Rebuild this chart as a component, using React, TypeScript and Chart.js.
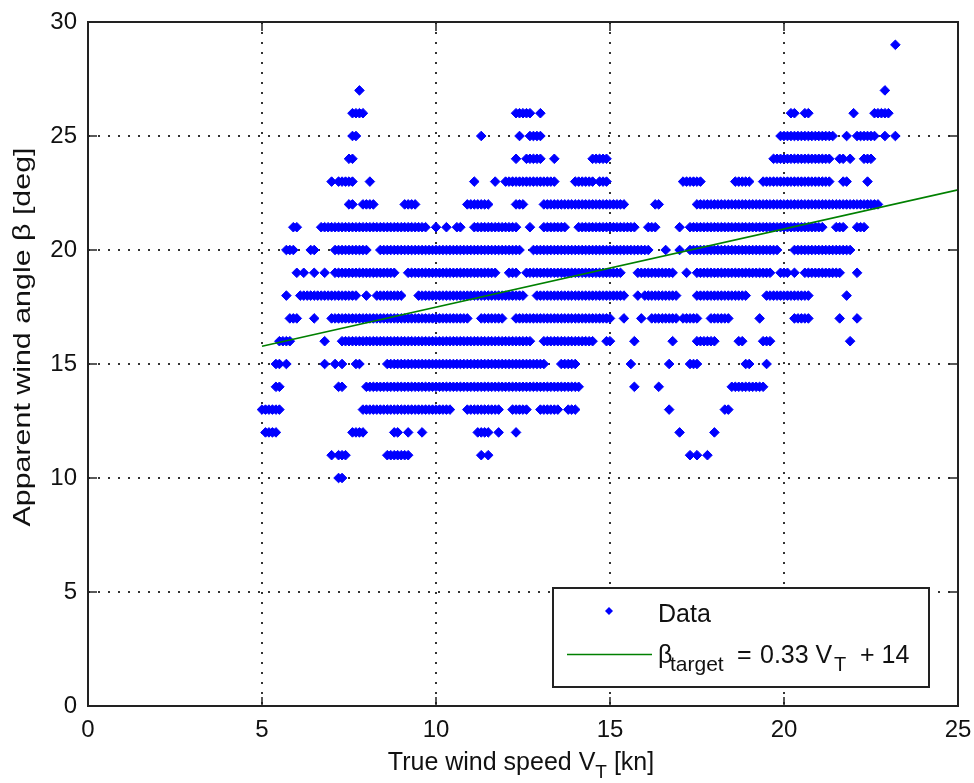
import React, { useEffect, useRef } from 'react';
import { Chart, registerables } from 'chart.js';

Chart.register(...registerables);

// ---------- data ----------
const angleLevels = [29, 28, 27, 26, 25, 24, 23, 22, 21, 20, 19, 18, 17, 16, 15, 14, 13, 12, 11, 10];

// For each apparent wind angle level: [whole knots, presence marks for .0 .1 ... .9 kn]
const speedMarks: [number, string][][] = [
  /*29*/ [[23, '..#.......']],
  /*28*/ [],
  /*27*/ [[7, '........#.'], [22, '.........#']],
  /*26*/ [[7, '......####'], [12, '...#####..'], [13, '#.........'], [20, '..##..##..'], [22, '#.....####'], [23, '#.........']],
  /*25*/ [[7, '......##..'], [11, '...#......'], [12, '....#..###'], [13, '#.........'], [19, '.........#'], [20, '##########'], [21, '#####...#.'], [22, '.######..#'], [23, '..#.......']],
  /*24*/ [[7, '.....##...'], [12, '...#..####'], [13, '#...#.....'], [14, '.....#####'], [19, '.......###'], [20, '##########'], [21, '####..##.#'], [22, '...###....']],
  /*23*/ [[7, '#.#####...'], [8, '.#........'], [11, '.#.....#..'], [12, '##########'], [13, '#####.....'], [14, '######.###'], [17, '.######...'], [18, '......####'], [19, '#...######'], [20, '##########'], [21, '####...##.'], [22, '....#.....']],
  /*22*/ [[7, '.....##..#'], [8, '###.......'], [9, '.####.....'], [10, '.........#'], [11, '######....'], [12, '...###....'], [13, '.#########'], [14, '##########'], [15, '#####.....'], [16, '...##.....'], [17, '.....#####'], [18, '##########'], [19, '##########'], [20, '##########'], [21, '##########'], [22, '########..']],
  /*21*/ [[5, '.........#'], [6, '#......###'], [7, '##########'], [8, '##########'], [9, '########..'], [10, '#..#..##..'], [11, '.#########'], [12, '####...#..'], [13, '.#######..'], [14, '.#########'], [15, '########..'], [16, '.###......'], [17, '#..#######'], [18, '##########'], [19, '##########'], [20, '##########'], [21, '##...###..'], [22, '.###......']],
  /*20*/ [[5, '.......###'], [6, '....##....'], [7, '.#########'], [8, '#...######'], [9, '##########'], [10, '##########'], [11, '##########'], [12, '#####...##'], [13, '##########'], [14, '##########'], [15, '##########'], [16, '##....#...'], [17, '#..#######'], [18, '##########'], [19, '#########.'], [20, '...#######'], [21, '##########']],
  /*19*/ [[6, '#.#..#..#.'], [7, '.#########'], [8, '#########.'], [9, '..########'], [10, '##########'], [11, '########..'], [12, '.###..####'], [13, '##########'], [14, '##########'], [15, '####....##'], [16, '#########.'], [17, '..#..#####'], [18, '##########'], [19, '#######..#'], [20, '##.#..####'], [21, '#######...'], [22, '.#........']],
  /*18*/ [[5, '.......#..'], [6, '.#########'], [7, '########..'], [8, '#..#######'], [9, '#....#####'], [10, '##########'], [11, '##########'], [12, '######...#'], [13, '##########'], [14, '##########'], [15, '#####...#.'], [16, '##########'], [17, '.....#####'], [18, '##########'], [19, '.....#####'], [20, '########..'], [21, '........#.']],
  /*17*/ [[5, '........##'], [6, '#....#....'], [7, '##########'], [8, '##########'], [9, '##########'], [10, '##########'], [11, '...#######'], [12, '...#######'], [13, '##########'], [14, '##########'], [15, '#...#....#'], [16, '..########'], [17, '.#####...#'], [18, '#####.....'], [19, '...#......'], [20, '...#####..'], [21, '......#...'], [22, '.#........']],
  /*16*/ [[5, '.....####.'], [6, '........#.'], [7, '...#######'], [8, '##########'], [9, '##########'], [10, '##########'], [11, '##########'], [12, '########..'], [13, '.#########'], [14, '######...#'], [15, '#......#..'], [16, '........#.'], [17, '.....#####'], [18, '#......##.'], [19, '....###...'], [21, '.........#']],
  /*15*/ [[5, '....##.#..'], [6, '........#.'], [7, '.#.#...##.'], [8, '......####'], [9, '##########'], [10, '##########'], [11, '##########'], [12, '##########'], [13, '##....####'], [14, '#.........'], [15, '......#...'], [16, '.......#..'], [17, '...###....'], [18, '.........#'], [19, '#....#....']],
  /*14*/ [[5, '....##....'], [7, '..##......'], [8, '##########'], [9, '##########'], [10, '##########'], [11, '##########'], [12, '##########'], [13, '##########'], [14, '##........'], [15, '.......#..'], [16, '....#.....'], [18, '.....#####'], [19, '#####.....']],
  /*13*/ [[5, '######....'], [7, '.........#'], [8, '##########'], [9, '##########'], [10, '#####....#'], [11, '#########.'], [12, '..#####...'], [13, '######..##'], [14, '#.........'], [16, '.......#..'], [18, '...##.....']],
  /*12*/ [[5, '.####.....'], [7, '......####'], [8, '........##'], [9, '..#...#...'], [11, '..####..#.'], [12, '...#......'], [17, '#.........'], [18, '#.........']],
  /*11*/ [[7, '#.###.....'], [8, '......####'], [9, '###.......'], [11, '...#.#....'], [17, '...#.#..#.']],
  /*10*/ [[7, '..##......']],
];

const fitSpeeds = [5, 25];
const fitAngles = [15.78, 22.64];

const xTicks = [0, 5, 10, 15, 20, 25];
const yTicks = [0, 5, 10, 15, 20, 25, 30];

const legendLabels = ['Data', 'β_target = 0.33 V_T + 14'];

// ---------- styles ----------
const FAMILY = "'Liberation Sans', Arial, Helvetica, sans-serif";
const BLUE = '#0000ff';
const GREEN = '#008000';
const TEXT = '#111111';
const FRAME = '#222222';
const font = (s: number) => `${s}px ${FAMILY}`;

type Piece = { t: string; size: number; dy: number; x?: number };

function drawPieces(ctx: CanvasRenderingContext2D, startX: number, baseY: number, pieces: Piece[]) {
  let cx = startX;
  for (const p of pieces) {
    ctx.font = font(p.size);
    const px = p.x !== undefined ? p.x : cx;
    ctx.fillText(p.t, px, baseY + p.dy);
    cx = px + ctx.measureText(p.t).width;
  }
  return cx;
}

function measurePieces(ctx: CanvasRenderingContext2D, pieces: Piece[]) {
  let w = 0;
  for (const p of pieces) {
    ctx.font = font(p.size);
    w += ctx.measureText(p.t).width;
  }
  return w;
}

const framePlugin = {
  id: 'matlabFrame',
  afterDraw(chart: any) {
    const { ctx, chartArea } = chart;
    const { left, right, top, bottom } = chartArea;
    const xs = chart.scales.x;
    const ys = chart.scales.y;
    ctx.save();

    // inward tick marks on all four sides
    ctx.strokeStyle = FRAME;
    ctx.lineWidth = 1.5;
    ctx.setLineDash([]);
    const seg = (x1: number, y1: number, x2: number, y2: number) => {
      ctx.beginPath();
      ctx.moveTo(x1, y1);
      ctx.lineTo(x2, y2);
      ctx.stroke();
    };
    const tl = 9;
    xs.ticks.forEach((t: any) => {
      const px = xs.getPixelForValue(t.value);
      seg(px, bottom, px, bottom - tl);
      seg(px, top, px, top + tl);
    });
    ys.ticks.forEach((t: any) => {
      const py = ys.getPixelForValue(t.value);
      seg(left, py, left + tl, py);
      seg(right, py, right - tl, py);
    });

    // box
    ctx.lineWidth = 2;
    ctx.strokeRect(left, top, right - left, bottom - top);

    // x axis title
    ctx.fillStyle = TEXT;
    ctx.textAlign = 'left';
    ctx.textBaseline = 'alphabetic';
    const xPieces: Piece[] = [
      { t: 'True wind speed V', size: 25, dy: 0 },
      { t: 'T', size: 19, dy: 8 },
      { t: ' [kn]', size: 25, dy: 0 },
    ];
    const xw = measurePieces(ctx, xPieces);
    drawPieces(ctx, (left + right) / 2 - xw / 2 - 2, 770, xPieces);

    // y axis title (rotated)
    const yText = 'Apparent wind angle β [deg]';
    ctx.save();
    ctx.translate(30, 337);
    ctx.rotate(-Math.PI / 2);
    ctx.font = font(24);
    const yw = ctx.measureText(yText).width;
    const sx = 379 / yw;
    ctx.scale(sx, 1);
    ctx.textAlign = 'center';
    ctx.fillText(yText, 0, 0);
    ctx.restore();

    // legend
    const lx = 553, ly = 588, lw = 376, lh = 99;
    ctx.fillStyle = '#ffffff';
    ctx.fillRect(lx, ly, lw, lh);
    ctx.strokeStyle = FRAME;
    ctx.lineWidth = 2;
    ctx.strokeRect(lx, ly, lw, lh);

    const dataDs = chart.data.datasets[1];
    const fitDs = chart.data.datasets[0];
    // marker sample
    ctx.fillStyle = dataDs.backgroundColor;
    ctx.beginPath();
    const mx = 609, my = 611, mr = 4;
    ctx.moveTo(mx - mr, my);
    ctx.lineTo(mx, my - mr);
    ctx.lineTo(mx + mr, my);
    ctx.lineTo(mx, my + mr);
    ctx.closePath();
    ctx.fill();
    // line sample
    ctx.strokeStyle = fitDs.borderColor;
    ctx.lineWidth = fitDs.borderWidth;
    seg(567, 654.5, 652, 654.5);

    ctx.fillStyle = TEXT;
    ctx.textAlign = 'left';
    ctx.font = font(25);
    ctx.fillText(legendLabels[0], 658, 622);
    const [head, rest] = legendLabels[1].split(' = ');
    const [beta, sub] = head.split('_');
    const restParts = rest.split('_'); // ['0.33 V', 'T + 14']
    const tail = restParts[1].slice(1); // ' + 14'
    drawPieces(ctx, 658, 663, [
      { t: beta, size: 25, dy: 0, x: 658 },
      { t: sub, size: 21, dy: 8, x: 670 },
      { t: '=', size: 25, dy: 0, x: 737 },
      { t: restParts[0], size: 25, dy: 0, x: 760 },
      { t: restParts[1].charAt(0), size: 20, dy: 8, x: 834 },
      { t: tail, size: 25, dy: 0, x: 853 },
    ]);

    ctx.restore();
  },
};

export default function App() {
  const ref = useRef<HTMLCanvasElement>(null);

  useEffect(() => {
    const canvas = ref.current;
    if (!canvas) return;

    const points: { x: number; y: number }[] = [];
    angleLevels.forEach((angle, i) => {
      for (const [whole, marks] of speedMarks[i]) {
        for (let j = 0; j < marks.length; j++) {
          if (marks[j] === '#') points.push({ x: whole + j / 10, y: angle });
        }
      }
    });

    const tickFont = { family: FAMILY, size: 24 };

    const chart = new Chart(canvas, {
      type: 'scatter',
      data: {
        datasets: [
          {
            type: 'line',
            label: legendLabels[1],
            data: fitSpeeds.map((x, i) => ({ x, y: fitAngles[i] })),
            borderColor: GREEN,
            backgroundColor: GREEN,
            borderWidth: 1.6,
            pointRadius: 0,
            fill: false,
            tension: 0,
            order: 0,
          } as any,
          {
            type: 'scatter',
            label: legendLabels[0],
            data: points,
            pointStyle: 'rectRot',
            pointRadius: 4.8,
            backgroundColor: BLUE,
            borderColor: BLUE,
            borderWidth: 1,
            order: 1,
          } as any,
        ],
      },
      options: {
        responsive: false,
        animation: false,
        devicePixelRatio: 1,
        events: [],
        layout: { autoPadding: false, padding: { left: 0, right: 16, top: 22, bottom: 0 } } as any,
        plugins: {
          legend: { display: false },
          tooltip: { enabled: false },
          title: { display: false },
        },
        scales: {
          x: {
            type: 'linear',
            position: 'bottom',
            min: xTicks[0],
            max: xTicks[xTicks.length - 1],
            afterFit: (s: any) => { s.height = 77; s.paddingLeft = 0; s.paddingRight = 0; },
            afterBuildTicks: (s: any) => { s.ticks = xTicks.map((v) => ({ value: v })); },
            ticks: { autoSkip: false, maxRotation: 0, minRotation: 0, padding: 10, font: tickFont, color: TEXT },
            grid: { color: '#333333', lineWidth: 2, drawTicks: false },
            border: { display: false, dash: [2, 8] },
          },
          y: {
            type: 'linear',
            position: 'left',
            min: yTicks[0],
            max: yTicks[yTicks.length - 1],
            afterFit: (s: any) => { s.width = 88; s.paddingTop = 0; s.paddingBottom = 0; },
            afterBuildTicks: (s: any) => { s.ticks = yTicks.map((v) => ({ value: v })); },
            ticks: { padding: 11, font: tickFont, color: TEXT },
            grid: { color: '#333333', lineWidth: 2, drawTicks: false },
            border: { display: false, dash: [2, 8] },
          },
        },
      } as any,
      plugins: [framePlugin],
    });

    return () => chart.destroy();
  }, []);

  return (
    <div style={{ position: 'fixed', left: 0, top: 0, width: 974, height: 783, background: '#ffffff' }}>
      <canvas ref={ref} width={974} height={783} style={{ display: 'block', width: 974, height: 783 }} />
    </div>
  );
}
